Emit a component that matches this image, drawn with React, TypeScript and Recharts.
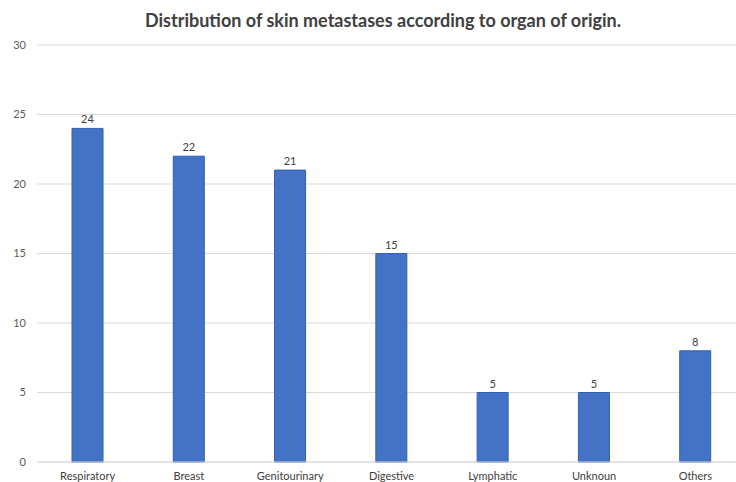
import React from "react";
import { BarChart, Bar, XAxis, YAxis, CartesianGrid, LabelList } from "recharts";

const categories = ["Respiratory", "Breast", "Genitourinary", "Digestive", "Lymphatic", "Unknoun", "Others"];
const counts = [24, 22, 21, 15, 5, 5, 8];
const yTicks = [0, 5, 10, 15, 20, 25, 30];

const data = categories.map((name, i) => ({ name, value: counts[i] }));

export default function App() {
  return (
    <div style={{ position: "fixed", left: 0, top: 0, width: 736, height: 482, overflow: "hidden", background: "#fff" }}>
      <div
        style={{
          position: "absolute",
          left: 0,
          top: 9,
          width: 766,
          textAlign: "center",
          fontFamily: "Lato, 'Open Sans', sans-serif",
          fontWeight: 700,
          fontSize: 18,
          color: "#404040",
          zIndex: 2,
        }}
      >
        Distribution of skin metastases according to organ of origin.
      </div>
      <BarChart
        width={746}
        height={482}
        data={data}
        margin={{ top: 45, right: 0, bottom: 0, left: 0 }}
        barCategoryGap={0}
      >
        <CartesianGrid vertical={false} stroke="#d9d9d9" />
        <XAxis
          dataKey="name"
          height={20}
          tickLine={false}
          tickSize={0}
          tickMargin={10}
          axisLine={{ stroke: "#d9d9d9" }}
          interval={0}
          tick={{ fontSize: 11, fill: "#404040", fontFamily: "Lato, sans-serif" }}
        />
        <YAxis
          width={37}
          domain={[0, 30]}
          ticks={yTicks}
          tickLine={false}
          axisLine={false}
          tickSize={0}
          tickMargin={11}
          tick={{ fontSize: 11, fill: "#595959", fontFamily: "Lato, sans-serif" }}
        />
        <Bar dataKey="value" fill="#4472C4" stroke="#2F5FB8" strokeWidth={1} barSize={31} isAnimationActive={false}>
          <LabelList dataKey="value" position="top" offset={5} style={{ fontSize: 11, fill: "#404040", fontFamily: "Lato, sans-serif" }} />
        </Bar>
      </BarChart>
    </div>
  );
}
